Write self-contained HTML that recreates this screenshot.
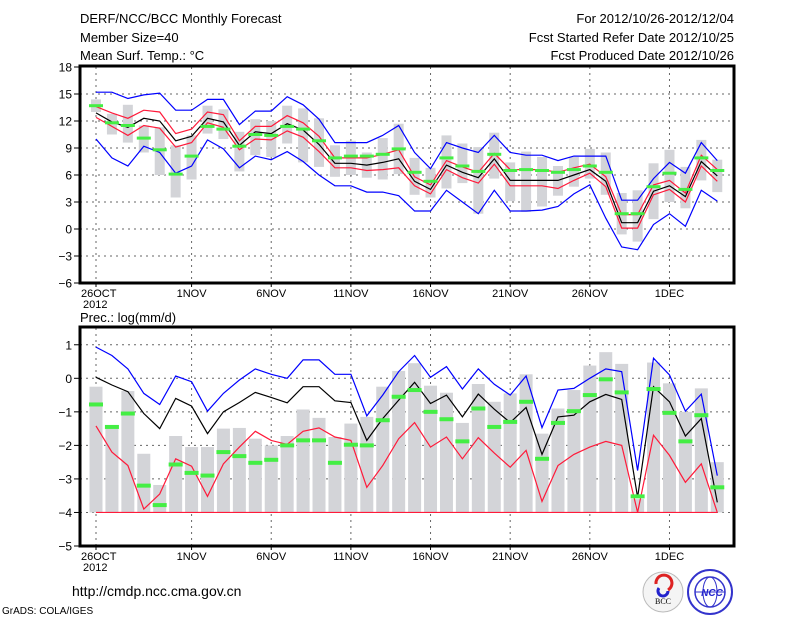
<!DOCTYPE html>
<html><head><meta charset="utf-8"><style>
body{margin:0;background:#fff;}
svg{display:block;font-family:"Liberation Sans",sans-serif;}
</style></head><body>
<svg id="c" width="800" height="618" xmlns="http://www.w3.org/2000/svg">
<g font-size="13" fill="#000">
<text x="80" y="23">DERF/NCC/BCC Monthly Forecast</text>
<text x="80" y="42">Member Size=40</text>
<text x="80" y="60">Mean Surf. Temp.: °C</text>
<text x="734" y="23" text-anchor="end">For 2012/10/26-2012/12/04</text>
<text x="734" y="42" text-anchor="end">Fcst Started Refer Date 2012/10/25</text>
<text x="734" y="60" text-anchor="end">Fcst Produced Date 2012/10/26</text>
<text x="80" y="322">Prec.: log(mm/d)</text>
<text x="72" y="596" font-size="14">http://cmdp.ncc.cma.gov.cn</text>
<text x="2" y="614" font-size="10">GrADS: COLA/IGES</text>
</g>
<g>
<circle cx="663" cy="592" r="20" fill="#f4f4f4" stroke="#bbb"/>
<path d="M656 584 a8 8 0 1 1 12 6" fill="none" stroke="#d22" stroke-width="3"/>
<path d="M659 588 a5 5 0 1 0 9 3" fill="none" stroke="#22c" stroke-width="3"/>
<text x="663" y="604" font-size="8" text-anchor="middle" font-family="Liberation Serif">BCC</text>
</g>
<g>
<circle cx="710" cy="592" r="22" fill="#fff" stroke="#33c" stroke-width="2"/>
<circle cx="710" cy="592" r="15" fill="none" stroke="#33c" stroke-width="1.5"/>
<ellipse cx="710" cy="592" rx="7" ry="15" fill="none" stroke="#33c"/>
<line x1="695" y1="592" x2="725" y2="592" stroke="#33c"/>
<text x="712" y="596" font-size="10" font-style="italic" font-weight="bold" fill="#22c" text-anchor="middle">NCC</text>
</g>
<g id="top"></g><g id="bot"></g>
</svg>
<script>
// ===== Temperature data (day 0 = 26 Oct) =====
const tBlueHi=[15.2,15.2,14.5,14.9,15.1,13.2,13.2,14.4,14.4,11.6,13.1,13.1,14.7,13.8,12.2,9.6,9.6,9.6,10.4,11.5,8.5,6.7,9.6,9.0,8.5,10.4,8.5,8.2,8.2,7.6,8.1,8.1,8.1,3.2,3.2,5.6,7.4,6.2,9.6,7.6];
const tRedHi=[13.6,12.9,12.3,13.2,13.0,10.6,11.1,13.0,12.7,9.8,11.4,11.4,12.6,11.8,10.3,7.9,7.9,7.9,8.3,8.8,5.8,4.9,7.6,6.9,6.3,8.4,6.6,6.6,6.6,6.3,6.8,7.2,5.8,1.6,1.6,4.9,5.4,4.0,8.2,6.6];
const tMean=[12.9,11.9,11.3,12.3,12.0,9.8,10.3,12.3,11.9,9.3,10.8,10.6,11.7,11.0,9.4,7.3,7.3,7.1,7.4,7.8,5.3,4.4,7.1,6.3,5.7,7.8,5.4,5.4,5.4,5.4,6.0,6.6,5.3,0.7,0.7,4.2,4.8,3.6,7.5,5.9];
const tRedLo=[12.4,11.4,10.4,11.5,11.2,9.1,9.6,11.8,11.3,8.8,10.0,9.9,10.9,10.2,8.6,6.8,6.8,6.5,6.6,6.8,4.8,3.9,6.6,5.7,5.1,7.2,4.8,4.8,4.8,4.5,5.4,6.2,4.7,0.1,0.1,3.8,4.4,3.0,7.0,5.3];
const tBlueLo=[10.0,7.9,7.0,9.2,8.5,6.2,7.0,9.9,8.9,6.8,8.1,7.7,8.6,7.5,6.0,4.8,4.8,4.1,4.1,3.7,2.0,2.0,4.3,3.0,1.7,4.3,2.0,2.0,2.1,2.5,3.9,4.9,1.2,-2.0,-2.3,0.5,1.7,0.3,4.3,3.1];
const tObs=[13.7,11.8,11.5,10.1,8.8,6.1,8.1,11.4,11.1,9.2,10.5,10.4,11.4,11.1,9.8,7.9,8.1,8.1,8.3,8.9,6.3,5.3,7.9,7.0,6.4,8.3,6.5,6.6,6.5,6.3,6.6,7.0,6.3,1.7,1.7,4.7,6.2,4.4,7.9,6.5];
const tBarLo=[13.0,10.5,9.6,8.5,6.0,3.5,5.5,10.6,10.0,6.4,8.2,8.0,9.5,7.4,6.9,5.8,6.0,5.7,5.5,6.1,3.8,3.5,4.5,5.1,1.7,5.6,3.1,1.9,2.5,3.7,4.7,5.6,3.8,-0.6,-1.4,1.1,3.0,2.3,5.4,4.1];
const tBarHi=[14.4,12.8,13.8,11.5,11.3,9.3,10.4,13.7,13.3,10.8,12.2,12.0,13.7,13.4,12.3,9.3,9.8,8.5,10.1,11.7,7.9,6.8,10.4,9.5,9.1,10.7,7.4,8.6,8.0,7.0,8.0,8.9,8.5,4.0,4.3,7.3,8.8,6.9,9.9,7.7];
const tTicks=[18,15,12,9,6,3,0,-3,-6];
// ===== Precipitation data =====
const pBlue=[0.93,0.68,0.28,-0.45,-0.78,0.07,-0.1,-0.98,-0.45,-0.05,0.28,0.12,0.0,0.55,0.55,0.12,0.12,-1.12,-0.5,0.2,0.68,0.03,0.35,-0.32,0.28,-0.18,-0.5,0.07,-1.47,-0.35,-0.3,0.0,0.28,0.2,-2.75,0.6,0.1,-0.98,-0.47,-2.9];
const pMean=[0.03,-0.2,-0.4,-1.05,-1.5,-0.6,-0.83,-1.65,-1.0,-0.72,-0.42,-0.57,-0.73,-0.25,-0.25,-0.67,-0.72,-1.85,-1.2,-0.65,-0.12,-0.75,-0.5,-1.15,-0.47,-0.92,-1.32,-0.87,-2.27,-1.15,-1.1,-0.7,-0.48,-0.63,-3.55,-0.25,-0.7,-1.72,-1.2,-3.7];
const pRed=[-1.42,-2.2,-2.6,-3.9,-3.45,-2.4,-2.62,-3.52,-2.55,-2.05,-1.58,-1.85,-1.97,-1.58,-1.48,-1.75,-1.85,-3.25,-2.6,-1.8,-1.32,-2.05,-1.75,-2.4,-1.77,-2.23,-2.65,-2.15,-3.67,-2.6,-2.27,-2.05,-1.88,-2.0,-4.0,-1.7,-2.3,-3.1,-2.55,-4.0];
const pObs=[-0.78,-1.45,-1.05,-3.2,-3.78,-2.57,-2.82,-2.9,-2.2,-2.32,-2.52,-2.43,-2.0,-1.85,-1.85,-2.52,-1.98,-2.0,-1.25,-0.55,-0.35,-1.0,-1.22,-1.88,-0.9,-1.45,-1.3,-0.7,-2.4,-1.33,-0.98,-0.5,-0.03,-0.42,-3.52,-0.32,-1.03,-1.88,-1.1,-3.25];
const pBar=[-0.25,-1.5,-0.38,-2.25,-3.18,-1.72,-2.05,-2.05,-1.5,-1.48,-1.8,-2.0,-1.72,-0.93,-1.18,-1.75,-1.35,-1.15,-0.25,0.22,0.45,-0.22,-0.43,-1.33,-0.17,-0.7,-0.45,0.12,-1.65,-0.9,-0.35,0.38,0.78,0.43,-3.6,0.47,-0.15,-1.0,-0.3,-2.5];
const pTicks=[1,0,-1,-2,-3,-4,-5];
const xLabels=["26OCT","1NOV","6NOV","11NOV","16NOV","21NOV","26NOV","1DEC"];
const xLabelDays=[0,6,11,16,21,26,31,36];

const NS="http://www.w3.org/2000/svg";
const L=80,R=734;
function xs(d){return 96+d*15.93;}
function el(tag,attrs,parent){const e=document.createElementNS(NS,tag);for(const k in attrs)e.setAttribute(k,attrs[k]);parent.appendChild(e);return e;}

function panel(g,top,bot,vmax,vmin,ticks){
  const ys=v=>top+(vmax-v)/(vmax-vmin)*(bot-top);
  // grid
  ticks.forEach(t=>{
    const y=ys(t);
    if(t!==vmax&&t!==vmin){const gl=el('line',{x1:L,x2:R,y1:y,y2:y,stroke:'#666','stroke-dasharray':'2,4','stroke-width':1},g);
    
    }
    const tk=el('line',{x1:L-6,x2:L,y1:y,y2:y,stroke:'#000','stroke-width':1},g);
    
    
    const tx=el('text',{x:L-8,y:y+4.5,'font-size':12,'text-anchor':'end'},g);tx.textContent=(t<0?'\u2212'+(-t):t);
    
    
  });
  xLabelDays.forEach((d,i)=>{
    const x=xs(d);
    const vl=el('line',{x1:x,x2:x,y1:top,y2:bot,stroke:'#666','stroke-dasharray':'2,4','stroke-width':1},g);
    
    
    const tk=el('line',{x1:x,x2:x,y1:bot,y2:bot+4,stroke:'#000'},g);
    
    
    const tx=el('text',{x:i==0?x-15:x,y:bot+14,'font-size':11,'text-anchor':i==0?'start':'middle'},g);tx.textContent=xLabels[i];
    
    
  });
  const yr=el('text',{x:xs(0)-13,y:bot+25,'font-size':11},g);yr.textContent='2012';
  
  
  return ys;
}
function line(g,arr,ys,color,name){
  const pts=arr.map((v,i)=>xs(i).toFixed(1)+','+ys(v).toFixed(1)).join(' ');
  const p=el('polyline',{points:pts,fill:'none',stroke:color,'stroke-width':1.2},g);
  
  
}
function frame(g,top,bot){
  const f=el('rect',{x:L,y:top,width:R-L,height:bot-top,fill:'none',stroke:'#000','stroke-width':3},g);
  
  
}
// Top panel
const gt=document.getElementById('top');
const yt=panel(gt,67,283,18,-6,tTicks);
tBarLo.forEach((lo,i)=>{
  const b=el('rect',{x:xs(i)-5,y:yt(tBarHi[i]),width:10,height:yt(lo)-yt(tBarHi[i]),fill:'#d3d4d8'},gt);
  
  
});
line(gt,tBlueHi,yt,'#0000ff','temp-upper-blue');
line(gt,tBlueLo,yt,'#0000ff','temp-lower-blue');
line(gt,tRedHi,yt,'#ff1a3a','temp-upper-red');
line(gt,tRedLo,yt,'#ff1a3a','temp-lower-red');
line(gt,tMean,yt,'#000','temp-ensemble-mean');
tObs.forEach((v,i)=>{
  const m=el('rect',{x:xs(i)-7,y:yt(v)-1.5,width:14,height:3,fill:'#44ee44'},gt);
  
  
});
frame(gt,66,283);
// Bottom panel
const gb=document.getElementById('bot');
const yb=panel(gb,328,546,1.5,-5,pTicks);
pBar.forEach((v,i)=>{
  const b=el('rect',{x:xs(i)-6.5,y:yb(v),width:13,height:Math.max(0,yb(-4)-yb(v)),fill:'#d3d4d8'},gb);
  
  
});
const base=el('line',{x1:xs(0),x2:xs(39),y1:yb(-4),y2:yb(-4),stroke:'#ff1a3a','stroke-width':1.2},gb);


line(gb,pBlue,yb,'#0000ff','prec-upper-blue');
line(gb,pRed,yb,'#ff1a3a','prec-lower-red');
line(gb,pMean,yb,'#000','prec-ensemble-mean');
pObs.forEach((v,i)=>{
  const m=el('rect',{x:xs(i)-7,y:yb(v)-2,width:14,height:4,fill:'#44ee44'},gb);
  
  
});
frame(gb,327,546);
</script>
</body></html>
